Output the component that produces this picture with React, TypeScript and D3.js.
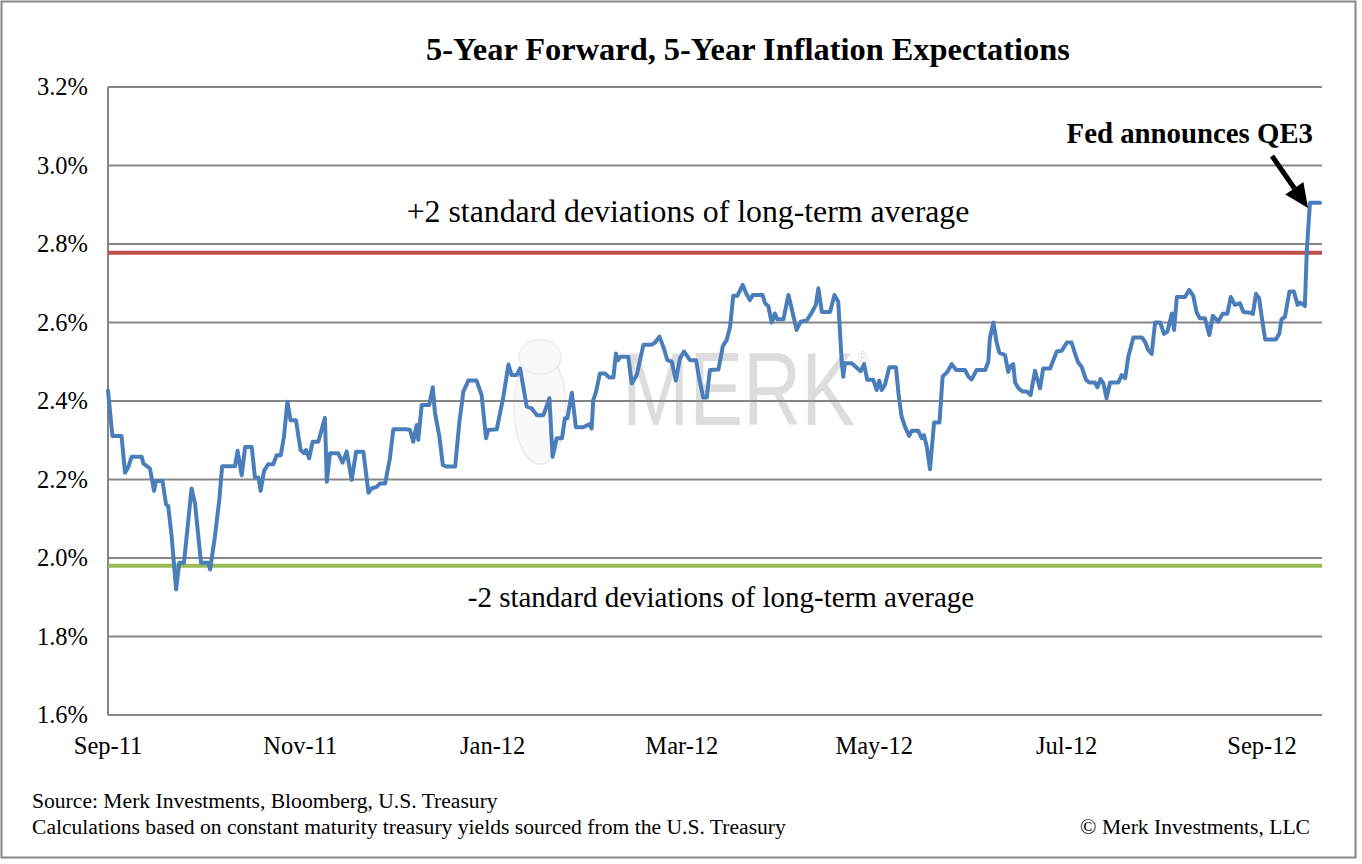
import React from "react";
import * as d3 from "d3";

// ---- data ----
const startDate = new Date(2011, 8, 1); // Sep 1, 2011
// [days after Sep 1 2011, 5y5y inflation expectation %]
const inflationSeries: [number, number][] = [
  [0,2.426],[1.4,2.311],[4.3,2.311],[5.4,2.217],[6.4,2.231],[7.5,2.258],[10.7,2.258],[11.2,2.241],[13.3,2.228],[14.6,2.171],[15.2,2.196],[17.3,2.196],[18.4,2.137],[19.1,2.132],[20.2,2.054],[21.6,1.920],[22.6,1.988],[24.1,1.988],[26.5,2.177],[27.6,2.139],[29.5,1.988],[31.8,1.988],[32.4,1.971],[33.9,2.054],[35.3,2.148],[36.2,2.234],[40.3,2.234],[41.1,2.273],[42.4,2.211],[43.5,2.283],[45.6,2.283],[46.6,2.205],[47.7,2.205],[48.4,2.171],[49.5,2.222],[50.8,2.239],
  [52.4,2.239],[53.5,2.262],[54.8,2.262],[55.8,2.309],[56.9,2.398],[57.9,2.351],[59.6,2.351],[61.1,2.275],[62.2,2.267],[62.8,2.275],[63.8,2.254],[64.9,2.296],[66.7,2.296],[68.8,2.357],[69.4,2.194],[70.4,2.267],[73.0,2.267],[74.4,2.243],[75.7,2.271],[77.3,2.199],[78.7,2.271],[81.0,2.271],[82.6,2.166],[83.6,2.177],[85.2,2.181],[86.3,2.190],[87.9,2.190],[89.4,2.254],[90.5,2.328],[94.7,2.328],
  [95.8,2.326],[96.8,2.296],[97.9,2.339],[98.4,2.301],[99.5,2.390],[101.9,2.390],[103.0,2.435],[103.7,2.370],[105.1,2.309],[106.2,2.237],[107.4,2.233],[110.1,2.233],[111.4,2.343],[112.7,2.424],[114.3,2.452],[116.9,2.452],[118.5,2.415],[119.9,2.305],[120.6,2.326],[123.3,2.328],[125.4,2.411],[127.0,2.493],[128.0,2.466],[129.6,2.466],[130.7,2.483],[132.8,2.386],[134.4,2.381],[136.0,2.364],[138.1,2.364],[140.0,2.407],[141.0,2.258],[142.3,2.305],[144.0,2.305],[144.9,2.356],[145.7,2.356],
  [147.1,2.421],[148.4,2.333],[150.7,2.333],[152.6,2.341],[153.4,2.330],[153.9,2.402],[154.8,2.424],[156.0,2.470],[157.6,2.470],[159.0,2.460],[160.3,2.460],[161.1,2.521],[161.8,2.504],[162.6,2.513],[165.0,2.513],[166.1,2.445],[167.7,2.466],[169.8,2.543],[172.4,2.543],[173.5,2.549],[174.9,2.564],[176.3,2.534],[177.4,2.504],[178.8,2.500],[180.1,2.452],[181.4,2.509],[182.7,2.526],[184.6,2.504],[186.5,2.504],[187.5,2.458],[188.8,2.409],[189.9,2.409],[190.9,2.479],
  [193.6,2.480],[195.0,2.540],[196.2,2.555],[197.3,2.589],[198.3,2.668],[199.6,2.668],[201.3,2.696],[202.3,2.676],[203.6,2.657],[204.5,2.670],[207.6,2.670],[208.4,2.649],[209.4,2.642],[210.5,2.600],[211.5,2.623],[212.3,2.608],[214.2,2.608],[215.8,2.670],[217.2,2.623],[218.4,2.581],[219.7,2.602],[221.6,2.605],[223.2,2.625],[224.5,2.645],[225.3,2.687],[226.4,2.627],[229.0,2.627],[230.4,2.670],[231.6,2.653],[232.7,2.500],[233.2,2.462],[233.7,2.496],[235.9,2.496],[238.0,2.481],
  [238.7,2.476],[239.8,2.494],[240.8,2.454],[242.7,2.454],[243.8,2.428],[244.6,2.452],[245.4,2.428],[246.4,2.441],[247.8,2.486],[249.9,2.486],[250.7,2.420],[251.7,2.360],[252.8,2.334],[254.1,2.311],[254.9,2.324],[257.0,2.324],[258.1,2.305],[258.8,2.313],[259.7,2.283],[260.7,2.226],[262.0,2.345],[263.7,2.345],[264.7,2.462],[266.2,2.474],[267.6,2.494],[269.0,2.479],[271.8,2.479],[272.9,2.462],[273.9,2.455],[275.5,2.479],[278.2,2.479],[279.2,2.500],[279.7,2.560],[280.8,2.600],[281.9,2.547],[282.7,2.523],[284.5,2.517],[285.5,2.474],[286.3,2.489],[287.1,2.494],[287.7,2.447],[288.8,2.432],
  [290.1,2.424],[291.4,2.424],[292.6,2.415],[294.0,2.477],[295.6,2.432],[296.6,2.483],[298.8,2.483],[300.9,2.526],[302.5,2.528],[304.1,2.549],[305.6,2.549],[306.7,2.521],[307.7,2.498],[308.8,2.487],[310.2,2.454],[311.2,2.447],[313.0,2.447],[313.8,2.435],[314.8,2.456],[315.7,2.445],[316.7,2.407],[317.8,2.447],[320.4,2.447],[321.5,2.466],[322.6,2.458],[323.6,2.513],[325.2,2.562],[327.9,2.562],[328.9,2.551],[329.9,2.530],[331.0,2.520],[332.1,2.600],[333.7,2.600],
  [334.9,2.571],[336.0,2.577],[337.4,2.623],[338.1,2.581],[339.0,2.665],[341.6,2.665],[342.9,2.683],[344.2,2.668],[345.3,2.625],[346.3,2.611],[347.9,2.611],[349.3,2.568],[350.4,2.617],[352.1,2.602],[353.5,2.622],[355.0,2.622],[356.1,2.665],[357.4,2.645],[359.0,2.649],[360.1,2.627],[362.2,2.625],[363.1,2.622],[364.1,2.673],[365.1,2.662],[365.9,2.615],[367.0,2.557],[370.4,2.557],[371.5,2.572],[372.2,2.608],[373.3,2.615],[374.7,2.679],[376.1,2.679],[377.3,2.645],[378.1,2.651],[379.6,2.642],[380.2,2.781],[381.2,2.905],[384.4,2.905],
];
const upperBand = 2.778; // +2 standard deviations
const lowerBand = 1.98; // -2 standard deviations
const yTicks = [1.6, 1.8, 2.0, 2.2, 2.4, 2.6, 2.8, 3.0, 3.2];
const xTickDates = [
  new Date(2011, 8, 1), new Date(2011, 10, 1), new Date(2012, 0, 1), new Date(2012, 2, 1),
  new Date(2012, 4, 1), new Date(2012, 6, 1), new Date(2012, 8, 1),
];
const xTickLabels = ["Sep-11", "Nov-11", "Jan-12", "Mar-12", "May-12", "Jul-12", "Sep-12"];
const titleText = "5-Year Forward, 5-Year Inflation Expectations";
const upperLabel = "+2 standard deviations of long-term average";
const lowerLabel = "-2 standard deviations of long-term average";
const annotationText = "Fed announces QE3";
const sourceLines = [
  "Source: Merk Investments, Bloomberg, U.S. Treasury",
  "Calculations based on constant maturity treasury yields sourced from the U.S. Treasury",
];
const copyrightText = "\u00A9 Merk Investments, LLC";

const W = 1362;
const H = 864;
const plot = { left: 108, right: 1322, top: 87, bottom: 715 };
const serif = "'Liberation Serif', 'Times New Roman', Times, serif";
const grid = "#868686";

export default function App() {
  const toDate = (d: number) => new Date(startDate.getTime() + d * 86400000);
  const x = d3
    .scaleTime()
    .domain([new Date(2011, 8, 1), new Date(2012, 8, 1)])
    .range([108, 1262]);
  const y = d3.scaleLinear().domain([1.6, 3.2]).range([plot.bottom, plot.top]);
  const line = d3
    .line<[number, number]>()
    .x((d) => x(toDate(d[0])))
    .y((d) => y(d[1]));

  // arrow geometry
  const tail = [1272, 156];
  const tip = [1308, 208];
  const dx = tip[0] - tail[0];
  const dy = tip[1] - tail[1];
  const len = Math.hypot(dx, dy);
  const ux = dx / len, uy = dy / len;
  const headL = 24, headW = 11;
  const bx = tip[0] - headL * ux, by = tip[1] - headL * uy;
  const px = -uy, py = ux;
  const head = `M${tip[0]},${tip[1]}L${bx + headW * px},${by + headW * py}L${bx - headW * px},${by - headW * py}Z`;

  return (
    <svg
      width={W}
      height={H}
      viewBox={`0 0 ${W} ${H}`}
      style={{ position: "absolute", left: 0, top: 0, background: "#fff" }}
    >
      <rect x={0} y={0} width={W} height={H} fill="#fff" />
      <rect x={1.5} y={1.5} width={1354} height={856} fill="none" stroke={grid} strokeWidth={2} />

      {/* watermark */}
      <g>
        <ellipse cx={540} cy={408} rx={26} ry={56} fill="#f9f9f9" stroke="#ebebeb" strokeWidth={1.5} />
        <ellipse cx={540} cy={357} rx={21} ry={17} fill="#f9f9f9" stroke="#ebebeb" strokeWidth={1.5} />
        <text
          transform="translate(622,425) scale(0.776,1)"
          fontFamily="'Liberation Sans', Arial, sans-serif"
          fontSize={104}
          fill="#dddddd"
        >
          MERK
          <tspan fontSize={16} dx={4} dy={-62}>®</tspan>
        </text>
      </g>

      {/* gridlines */}
      {yTicks.map((t) => (
        <line key={t} x1={plot.left} x2={plot.right} y1={y(t)} y2={y(t)} stroke={grid} strokeWidth={2} />
      ))}
      <line x1={plot.left} x2={plot.left} y1={plot.top} y2={plot.bottom} stroke={grid} strokeWidth={2} />

      {/* y tick labels */}
      {yTicks.map((t) => (
        <text key={t} x={88} y={y(t) + 8} textAnchor="end" fontFamily={serif} fontSize={24.5} fill="#000">
          {t.toFixed(1) + "%"}
        </text>
      ))}
      {/* x tick labels */}
      {xTickDates.map((d, i) => (
        <text key={i} x={x(d)} y={754} textAnchor="middle" fontFamily={serif} fontSize={24.5} fill="#000">
          {xTickLabels[i]}
        </text>
      ))}

      {/* bands */}
      <line x1={plot.left} x2={plot.right} y1={y(upperBand)} y2={y(upperBand)} stroke="#C0504D" strokeWidth={4} />
      <line x1={plot.left} x2={plot.right} y1={y(lowerBand)} y2={y(lowerBand)} stroke="#9BBB59" strokeWidth={4} />

      {/* series */}
      <path
        d={line(inflationSeries) || ""}
        fill="none"
        stroke="#4A7EBB"
        strokeWidth={4}
        strokeLinejoin="round"
        strokeLinecap="round"
      />

      {/* texts */}
      <text x={748} y={60} textAnchor="middle" fontFamily={serif} fontWeight="bold" fontSize={32.4} fill="#000">
        {titleText}
      </text>
      <text x={688} y={222} textAnchor="middle" fontFamily={serif} fontSize={31.8} fill="#000">
        {upperLabel}
      </text>
      <text x={721} y={607} textAnchor="middle" fontFamily={serif} fontSize={29} fill="#000">
        {lowerLabel}
      </text>
      <text x={1313} y={143} textAnchor="end" fontFamily={serif} fontWeight="bold" fontSize={28.8} fill="#000">
        {annotationText}
      </text>
      <line x1={tail[0]} y1={tail[1]} x2={bx} y2={by} stroke="#000" strokeWidth={5} />
      <path d={head} fill="#000" />

      {/* footer */}
      {sourceLines.map((s, i) => (
        <text key={i} x={32} y={808 + i * 26} fontFamily={serif} fontSize={21.6} fill="#000">
          {s}
        </text>
      ))}
      <text x={1310} y={834} textAnchor="end" fontFamily={serif} fontSize={21.6} fill="#000">
        {copyrightText}
      </text>
    </svg>
  );
}
